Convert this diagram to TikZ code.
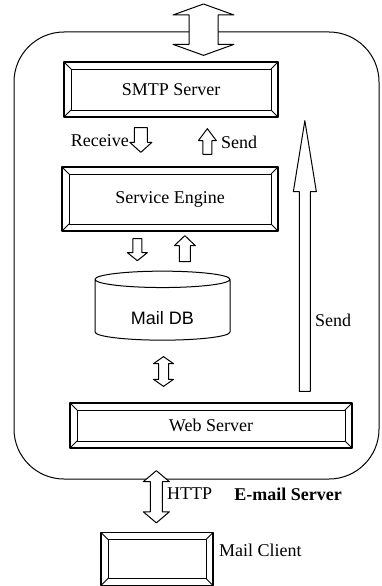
\documentclass[tikz,border=0pt]{standalone}
\usepackage{fontspec}
\setmainfont{Liberation Serif}
\newfontfamily\dbfont{Liberation Sans}
\usepackage{tikz}
\usetikzlibrary{calc, shapes.geometric}
\tikzset{every node/.style={font=\fontsize{18}{21}\selectfont}, every path/.style={line cap=round, line join=round},
    bevelbox/.style={draw, line width=1.3pt, inner sep=0pt, path picture={
        \draw[line width=0.8pt] ([shift={(#1,-#1)}]path picture bounding box.north west) rectangle ([shift={(-#1,#1)}]path picture bounding box.south east);
        \draw[line width=0.8pt] (path picture bounding box.north west) -- ++(#1,-#1)
            (path picture bounding box.north east) -- ++(-#1,-#1)
            (path picture bounding box.south east) -- ++(-#1,#1)
            (path picture bounding box.south west) -- ++(#1,#1);
    }},
    bevelbox/.default=7pt,
    blockarr/.style={draw, fill=white, line width=1pt}}
\newcommand{\blockarrow}[5]{%
    \draw[blockarr] let \p1=#1, \p2=#2, \n1={sign(\y2-\y1)} in
        (\x1-#3,\y1) -- (\x1-#3,{\y2-(\n1)*#5}) -- (\x1-#4,{\y2-(\n1)*#5}) -- (\x1,\y2)
        -- (\x1+#4,{\y2-(\n1)*#5}) -- (\x1+#3,{\y2-(\n1)*#5}) -- (\x1+#3,\y1) -- cycle;}
\newcommand{\dblockarrow}[5]{%
    \draw[blockarr] let \p1=#1, \p2=#2, \n1={sign(\y2-\y1)} in
        (\x1,\y1) -- (\x1+#4,{\y1+(\n1)*#5}) -- (\x1+#3,{\y1+(\n1)*#5}) -- (\x1+#3,{\y2-(\n1)*#5})
        -- (\x1+#4,{\y2-(\n1)*#5}) -- (\x1,\y2) -- (\x1-#4,{\y2-(\n1)*#5}) -- (\x1-#3,{\y2-(\n1)*#5})
        -- (\x1-#3,{\y1+(\n1)*#5}) -- (\x1-#4,{\y1+(\n1)*#5}) -- cycle;}

\begin{document}
\begin{tikzpicture}[x=1pt, y=-1pt]
    \useasboundingbox (0,0) rectangle (381,586);
    \draw[line width=1pt, rounded corners=50pt] (14,32) rectangle (379,479);
    \node[bevelbox, minimum width=214pt, minimum height=55pt] (smtp) at (171,89.5) {SMTP Server};
    \node[bevelbox, minimum width=216pt, minimum height=64pt] (engine) at (170,199) {Service Engine};
    \node[cylinder, draw, line width=1pt, shape border rotate=90, aspect=0.26,
        minimum width=135pt, minimum height=69pt, inner sep=0pt,
        font=\dbfont\fontsize{18}{21}\selectfont] (maildb) at (162.5,310) {\raisebox{-14pt}[0pt][0pt]{Mail DB}};
    \node[bevelbox, minimum width=282pt, minimum height=45pt] (web) at (211,425.5) {Web Server};
    \node[bevelbox, minimum width=112pt, minimum height=53pt] (client) at (157,559) {};
    \coordinate (net) at (203.5,4);

    \dblockarrow{(net)}{($(net |- smtp.north)+(0,-6)$)}{14.5pt}{30.5pt}{11pt}
    \blockarrow{($(smtp.south west)+(77.5,10)$)}{($(engine.north west)+(79.5,-14)$)}{6.5pt}{11pt}{10pt}
    \blockarrow{($(engine.north west)+(146,-12)$)}{($(smtp.south west)+(144,11)$)}{4.5pt}{9pt}{12pt}
    \blockarrow{($(web.north west)+(235.5,-11)$)}{($(smtp.south east)+(27.5,3)$)}{5.5pt}{11.5pt}{71pt}
    \blockarrow{($(engine.south west)+(76,7)$)}{($(engine.south west)+(76,29)$)}{4.5pt}{10pt}{8pt}
    \blockarrow{($(engine.south west)+(123.5,30)$)}{($(engine.south west)+(123.5,4)$)}{5.5pt}{10.5pt}{10pt}
    \dblockarrow{($(maildb.south)+(1,16)$)}{($(web.north)+(-47.5,-16)$)}{5pt}{10pt}{7pt}
    \dblockarrow{($(web.south west)+(87,22)$)}{($(client.north)+(0,-9)$)}{6pt}{13pt}{11pt}

    \node[anchor=east, inner sep=0pt] (recvlbl) at (129,141) {Receive};
    \node[anchor=west, inner sep=0pt] (sendlbl) at (221,142) {Send};
    \node[anchor=west, inner sep=0pt] (sendlbl2) at (315,320) {Send};
    \node[anchor=west, inner sep=0pt] (httplbl) at (167,494) {HTTP};
    \node[font=\bfseries\fontsize{18}{21}\selectfont] (srvlbl) at (288,494) {E-mail Server};
    \node[anchor=west, inner sep=0pt] (clientlbl) at (219,550) {Mail Client};
\end{tikzpicture}
\end{document}
